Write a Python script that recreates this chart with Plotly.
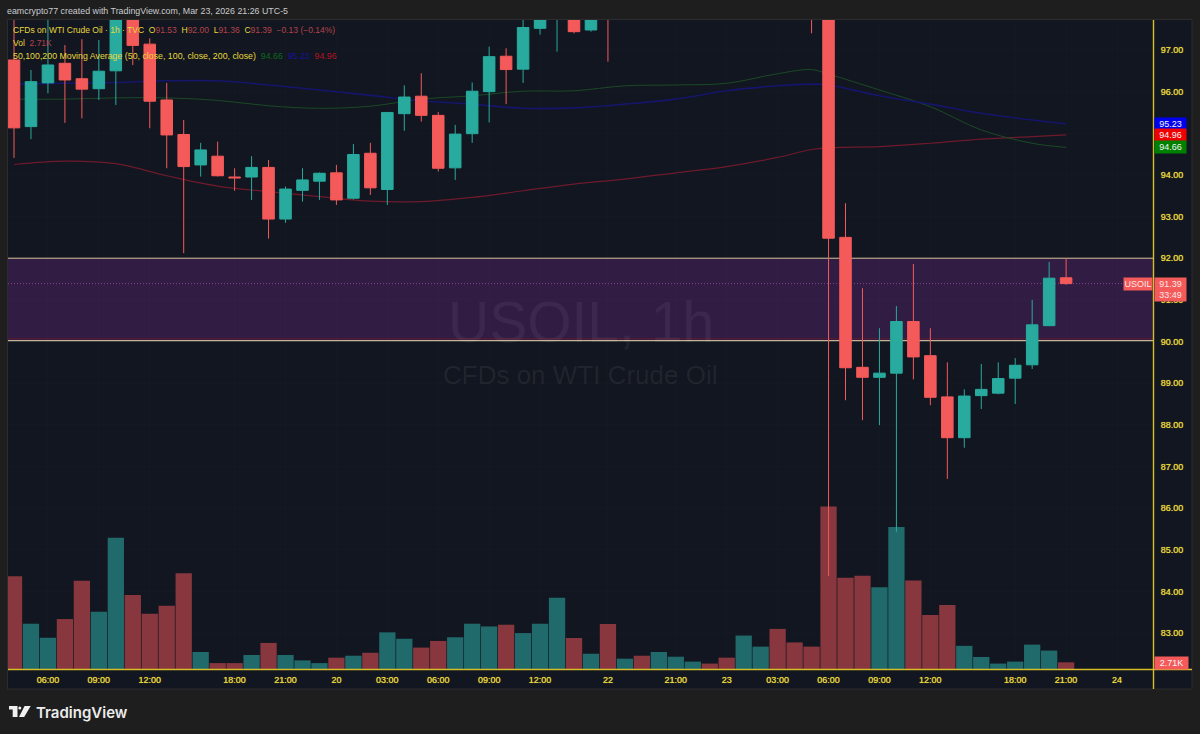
import plotly.graph_objects as go

# hourly bars, x is the bar number so session gaps collapse like on the chart
bars = list(range(63))
opens = [96.76, 95.16, 96.21, 96.68, 96.31, 96.07, 96.50, 97.90, 97.14, 95.80,
         94.97, 94.24, 94.45, 93.95, 93.95, 94.18, 92.94, 93.63, 93.85, 94.05,
         93.44, 94.52, 93.65, 95.47, 95.89, 95.43, 94.17, 94.99, 96.00, 96.85,
         96.54, 97.52, 98.00, 98.00, 97.48, 98.40, 97.90, 98.40, 98.20, 98.60,
         98.90, 99.10, 99.00, 98.80, 99.30, 99.60, 99.20, 98.90, 98.60, 92.50,
         89.38, 89.14, 89.24, 90.48, 89.66, 88.67, 87.69, 88.70, 88.76, 89.12,
         89.44, 90.38, 91.53]
highs = [97.90, 96.52, 97.85, 97.12, 97.26, 97.24, 98.10, 98.10, 97.28, 96.21,
         95.32, 94.77, 94.80, 94.16, 94.45, 94.36, 93.72, 94.16, 94.06, 94.24,
         94.74, 94.77, 95.50, 96.15, 96.44, 95.51, 95.20, 96.22, 97.08, 97.04,
         97.80, 98.00, 98.50, 98.20, 98.10, 98.60, 98.60, 98.70, 98.80, 99.10,
         99.30, 99.20, 99.20, 99.60, 99.80, 99.90, 99.40, 99.10, 98.90, 93.32,
         91.28, 90.32, 90.85, 91.86, 90.32, 89.50, 88.85, 89.46, 89.50, 89.60,
         91.00, 91.91, 92.00]
lows = [94.41, 94.86, 95.96, 95.25, 95.36, 95.80, 95.68, 96.64, 95.12, 94.16,
        92.12, 93.96, 93.96, 93.62, 93.40, 92.47, 92.85, 93.36, 93.40, 93.28,
        93.41, 93.52, 93.28, 95.06, 95.28, 94.08, 93.88, 94.77, 95.26, 95.70,
        96.21, 97.37, 96.96, 97.40, 97.44, 96.72, 97.80, 98.00, 98.00, 98.40,
        98.70, 98.80, 98.60, 98.60, 99.10, 99.00, 98.60, 97.40, 84.37, 88.59,
        88.11, 87.99, 85.43, 89.09, 88.47, 86.70, 87.45, 88.38, 88.73, 88.50,
        89.34, 90.38, 91.36]
closes = [95.13, 96.24, 96.64, 96.28, 96.06, 96.49, 97.90, 97.11, 95.77, 94.96,
          94.20, 94.60, 93.98, 93.93, 94.18, 92.94, 93.66, 93.88, 94.04, 93.40,
          94.49, 93.69, 95.50, 95.87, 95.43, 94.16, 94.98, 96.01, 96.84, 96.53,
          97.54, 97.90, 98.30, 97.44, 97.90, 97.90, 98.40, 98.20, 98.60, 98.90,
          99.10, 99.00, 98.80, 99.30, 99.60, 99.20, 98.90, 98.60, 92.48, 89.37,
          89.14, 89.24, 90.48, 89.63, 88.66, 87.69, 88.69, 88.85, 89.11, 89.43,
          90.40, 91.52, 91.39]
volume_k = [37.7, 18.4, 12.7, 20.3, 35.9, 23.3, 53.3, 30.1, 22.5, 25.7,
            38.9, 6.9, 2.4, 2.4, 5.7, 10.6, 5.7, 3.5, 2.4, 4.6,
            5.4, 6.6, 14.9, 12.3, 8.7, 11.4, 12.9, 18.4, 17.3, 18.0,
            14.6, 18.4, 29.0, 12.6, 6.2, 18.3, 4.2, 5.4, 6.9, 5.0,
            3.0, 2.2, 4.6, 13.6, 9.1, 16.3, 10.8, 9.1, 66.1, 37.1,
            37.9, 33.2, 57.7, 36.0, 22.0, 26.0, 9.4, 4.9, 2.2, 3.0,
            9.9, 7.5, 2.71]

ma_bars = [0, 3, 6, 9, 12, 15, 18, 21, 24, 27, 30, 33, 36, 39, 42, 45, 47, 48, 51, 54, 57, 60, 62]
ma50 = [95.82, 95.82, 95.85, 95.85, 95.79, 95.66, 95.60, 95.65, 95.82, 95.90, 96.01, 96.02,
        96.14, 96.16, 96.20, 96.43, 96.53, 96.42, 96.04, 95.64, 95.08, 94.76, 94.66]
ma100 = [96.18, 96.20, 96.22, 96.26, 96.26, 96.16, 96.04, 95.91, 95.78, 95.70, 95.60, 95.61,
         95.70, 95.82, 96.02, 96.14, 96.18, 96.16, 95.90, 95.70, 95.48, 95.32, 95.23]
ma200 = [94.25, 94.33, 94.27, 93.98, 93.73, 93.60, 93.48, 93.37, 93.36, 93.46, 93.62, 93.78,
         93.90, 94.05, 94.20, 94.42, 94.61, 94.65, 94.68, 94.76, 94.86, 94.92, 94.96]

time_ticks = [2, 5, 8, 13, 16, 19, 22, 25, 28, 31, 35, 39, 42, 45, 48, 51, 54, 59, 62, 65]
time_labels = ["06:00", "09:00", "12:00", "18:00", "21:00", "20", "03:00", "06:00", "09:00", "12:00",
               "22", "21:00", "23", "03:00", "06:00", "09:00", "12:00", "18:00", "21:00", "24"]
price_ticks = [83, 84, 85, 86, 87, 88, 89, 90, 91, 92, 93, 94, 95, 96, 97]
price_labels = ["83.00", "84.00", "85.00", "86.00", "87.00", "88.00", "89.00", "90.00", "91.00",
                "92.00", "93.00", "94.00", "95.00", "96.00", "97.00"]

zone_low = 90.02
zone_high = 92.0
last_price = 91.39
price_range = [82.136, 97.72]

PAGE = "#1e1e1e"
PANEL = "#121620"
YELLOW = "#e8d83c"
THICK = "0 0 0.7px #e8d83c"  # the labels read heavier than a plain regular weight
AXIS_LINE = "#d6be28"
UP = "#28ab9e"
DOWN = "#f45a59"
UP_VOL = "#216a6b"
DOWN_VOL = "#88373e"
GRID = "rgba(255,255,255,0.012)"

# plot area on the 1200x734 page
LEFT, RIGHT, TOP, BOTTOM = 8, 1153, 20, 669


def px(x):
    return (x - LEFT) / (RIGHT - LEFT)


def py(y):
    return 1 - (y - TOP) / (BOTTOM - TOP)


def path(points):
    return "M" + " L".join(f"{px(x):.5f},{py(y):.5f}" for x, y in points) + " Z"


vol_colors = [UP_VOL if c >= o else DOWN_VOL for o, c in zip(opens, closes)]

fig = go.Figure()

# scatter always paints over boxes on one subplot, so the averages get their own axis under the candles
fig.add_trace(go.Bar(x=bars, y=volume_k, marker=dict(color=vol_colors, line_width=0), yaxis="y", xaxis="x"))

for values, color, w in [(ma200, "#6e1a2c", 1.2), (ma50, "#1a4a26", 1), (ma100, "#15156b", 1.6)]:
    fig.add_trace(go.Scatter(x=ma_bars, y=values, mode="lines", yaxis="y2",
                             line=dict(color=color, width=w, shape="spline")))

fig.add_trace(go.Candlestick(
    x=bars, open=opens, high=highs, low=lows, close=closes, yaxis="y3",
    increasing=dict(line=dict(color=UP, width=1), fillcolor=UP),
    decreasing=dict(line=dict(color=DOWN, width=1), fillcolor=DOWN),
    whiskerwidth=0,
))

shapes = [
    # chart panel, it reaches under both axes
    dict(type="rect", xref="paper", yref="paper", layer="below", x0=px(7.5), x1=px(1192), y0=py(689), y1=py(19.5),
         fillcolor=PANEL, line=dict(color="#2c2c2e", width=1)),
    dict(type="rect", xref="paper", yref="y3", layer="below", x0=0, x1=1, y0=zone_low, y1=zone_high,
         fillcolor="#311c44", line_width=0),
    dict(type="line", xref="paper", yref="y3", layer="below", x0=0, x1=1, y0=zone_high, y1=zone_high,
         line=dict(color="#d8c39c", width=1)),
    dict(type="line", xref="paper", yref="y3", layer="below", x0=0, x1=1, y0=zone_low + 0.045, y1=zone_low + 0.045,
         line=dict(color="#5e1c30", width=1)),
    dict(type="line", xref="paper", yref="y3", layer="below", x0=0, x1=1, y0=zone_low, y1=zone_low,
         line=dict(color="#c4b296", width=1.2)),
    dict(type="line", xref="paper", yref="y3", layer="below", x0=0, x1=1, y0=last_price, y1=last_price,
         line=dict(color="#8a3f8c", width=1, dash="1px,2px")),
    # axis lines
    dict(type="line", xref="paper", yref="paper", layer="above", x0=px(RIGHT + 0.5), x1=px(RIGHT + 0.5), y0=py(689), y1=py(20),
         line=dict(color=AXIS_LINE, width=1.4)),
    dict(type="line", xref="paper", yref="paper", layer="above", x0=px(8), x1=px(1192), y0=py(669.5), y1=py(669.5),
         line=dict(color=AXIS_LINE, width=1.4)),
    # TradingView mark
    dict(type="path", xref="paper", yref="paper", layer="above", line_width=0, fillcolor="#f0f0f0",
         path=path([(9, 706), (17.5, 706), (17.5, 717), (12.7, 717), (12.7, 709.6), (9, 709.6)])),
    dict(type="circle", xref="paper", yref="paper", layer="above", line_width=0, fillcolor="#f0f0f0",
         x0=px(18.3), x1=px(21.3), y0=py(709.6), y1=py(706.4)),
    dict(type="path", xref="paper", yref="paper", layer="above", line_width=0, fillcolor="#f0f0f0",
         path=path([(24.6, 706), (30.7, 706), (24.2, 717), (19, 717)])),
]

FONT = "Liberation Sans"


def note(text, x, y, size, color=YELLOW, **kw):
    return dict(text=text, xref="paper", yref="paper", x=px(x), y=py(y), xanchor="left", yanchor="middle",
                showarrow=False, font=dict(family=FONT, size=size, color=color), **kw)


def value_tag(text, color, price):
    return dict(text=text, xref="paper", yref="y3", x=px(1154), y=price, xanchor="left", yanchor="middle",
                showarrow=False, width=31, height=12, align="center", bgcolor=color, borderpad=0,
                font=dict(family=FONT, size=9, color="#f4f4f4"))


red_val = "#b5434b"
annotations = [
    note("eamcrypto77 created with TradingView.com, Mar 23, 2026 21:26 UTC-5", 5, 11, 8.85, "#c9cbd0"),
    note(f"CFDs on WTI Crude Oil · 1h · TVC  O<span style='color:{red_val}'>91.53</span>  "
         f"H<span style='color:{red_val}'>92.00</span>  L<span style='color:{red_val}'>91.36</span>  "
         f"C<span style='color:{red_val}'>91.39</span>  <span style='color:{red_val}'>−0.13 (−0.14%)</span>", 11, 30, 8.5),
    note(f"Vol  <span style='color:{red_val}'>2.71K</span>", 11, 43, 8.5),
    note("50,100,200 Moving Average (50, close, 100, close, 200, close)  "
         "<span style='color:#0c6a1c'>94.66</span>  <span style='color:#14149a'>95.23</span>  "
         "<span style='color:#b01420'>94.96</span>", 11, 56, 8.8),
    dict(text="USOIL, 1h", xref="paper", yref="paper", x=px(581), y=py(322), showarrow=False,
         font=dict(family=FONT, size=57, color="rgba(255,255,255,0.055)")),
    dict(text="CFDs on WTI Crude Oil", xref="paper", yref="paper", x=px(580), y=py(375), showarrow=False,
         font=dict(family=FONT, size=26, color="rgba(255,255,255,0.07)")),
    value_tag("95.23", "#0000f0", 95.23),
    value_tag("94.96", "#f00000", 94.96),
    value_tag("94.66", "#008000", 94.66),
    dict(text="USOIL", xref="paper", yref="y3", x=px(1153), y=last_price, xanchor="right", yanchor="middle",
         showarrow=False, width=28, height=12, bgcolor=DOWN, borderpad=0, font=dict(family=FONT, size=9, color="#f6e6e6")),
    dict(text="91.39<br>33:49", xref="paper", yref="paper", x=px(1154), y=py(289), xanchor="left", yanchor="middle",
         showarrow=False, width=31, height=23, bgcolor=DOWN, borderpad=0, align="center",
         font=dict(family=FONT, size=9, color="#f6e6e6")),
    dict(text="2.71K", xref="paper", yref="paper", x=px(1154), y=py(663), xanchor="left", yanchor="middle",
         showarrow=False, width=33, height=12, bgcolor=DOWN, borderpad=0, font=dict(family=FONT, size=9, color="#f6f6f6")),
    dict(text="TradingView", xref="paper", yref="paper", x=px(34), y=py(712), xanchor="left", yanchor="middle",
         showarrow=False, font=dict(family="Inter", size=15, weight=600, color="#ececec")),
]

fig.update_layout(
    width=1200, height=734,
    margin=dict(l=LEFT, r=1200 - RIGHT, t=TOP, b=734 - BOTTOM),
    paper_bgcolor=PAGE,
    plot_bgcolor="rgba(0,0,0,0)",
    showlegend=False,
    boxgap=0.32,
    boxgroupgap=0,
    bargap=0.04,
    shapes=shapes,
    annotations=annotations,
    xaxis=dict(range=[-0.354, 67.12], tickmode="array", tickvals=time_ticks, ticktext=time_labels,
               rangeslider=dict(visible=False), showline=False, zeroline=False,
               showgrid=True, gridcolor=GRID, gridwidth=1,
               ticks="outside", ticklen=2, tickcolor="rgba(0,0,0,0)",
               tickfont=dict(family=FONT, size=9, color=YELLOW, shadow=THICK)),
    yaxis=dict(range=[0, 263.8], visible=False, zeroline=False),
    yaxis2=dict(range=price_range, overlaying="y", visible=False, zeroline=False),
    yaxis3=dict(range=price_range, overlaying="y", side="right", anchor="x",
                tickmode="array", tickvals=price_ticks, ticktext=price_labels,
                showline=False, zeroline=False, showgrid=True, gridcolor=GRID, gridwidth=1,
                ticks="outside", ticklen=5, tickcolor="rgba(0,0,0,0)",
                tickfont=dict(family=FONT, size=9, color=YELLOW, shadow=THICK)),
)

# the browser's default body margin would push the chart off the page
fig.write_html("out.html", config={"displayModeBar": False}, post_script="document.body.style.margin='0';")
